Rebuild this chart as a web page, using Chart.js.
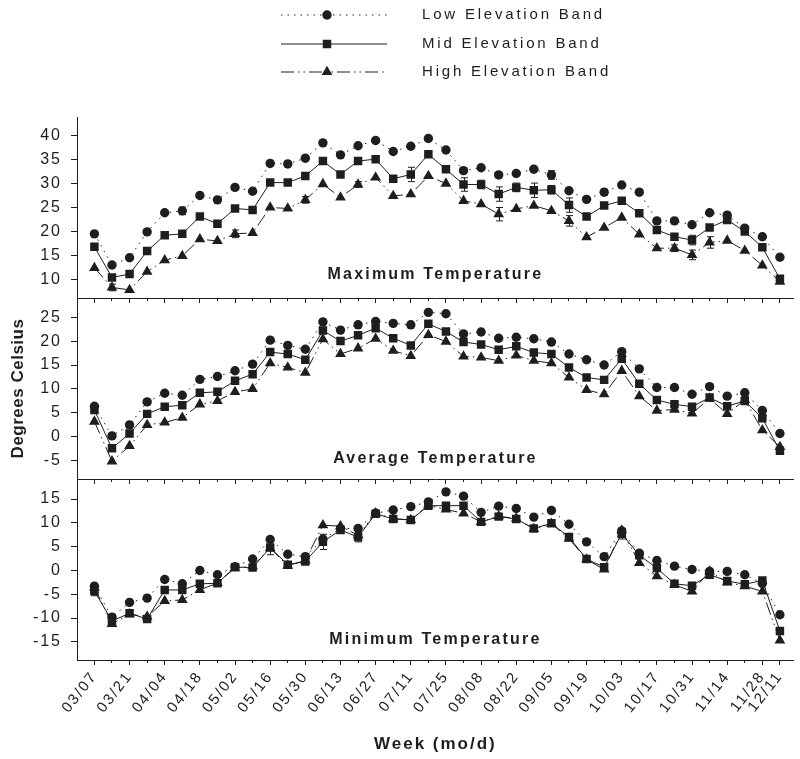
<!DOCTYPE html>
<html>
<head>
<meta charset="utf-8">
<script src="https://cdn.jsdelivr.net/npm/chart.js@4.4.0/dist/chart.umd.min.js"></script>
<style>
  body { margin: 0; background: #fff; }
  #wrap { position: relative; width: 800px; height: 759px; }
  #wrap canvas { position: absolute; left: 0; top: 0; }
</style>
</head>
<body>
<div id="wrap">
  <canvas id="maxChart" width="800" height="759"></canvas>
  <canvas id="avgChart" width="800" height="759"></canvas>
  <canvas id="minChart" width="800" height="759"></canvas>
</div>
<script>
// Weekly categories (only every 2nd one + last is labelled)
const weeks = ['03/07', '03/14', '03/21', '03/28', '04/04', '04/11', '04/18', '04/25', '05/02', '05/09',
  '05/16', '05/23', '05/30', '06/06', '06/13', '06/20', '06/27', '07/04', '07/11', '07/18',
  '07/25', '08/01', '08/08', '08/15', '08/22', '08/29', '09/05', '09/12', '09/19', '09/26',
  '10/03', '10/10', '10/17', '10/24', '10/31', '11/07', '11/14', '11/21', '11/28', '12/11'];

const bandNames = ['Low Elevation Band', 'Mid Elevation Band', 'High Elevation Band'];

// Maximum temperature
const maxLow = [19.5, 13.0, 14.5, 19.9, 23.9, 24.3, 27.5, 26.6, 29.2, 28.4,
  34.2, 34.1, 35.3, 38.5, 36.0, 37.9, 39.0, 36.7, 37.8, 39.4,
  37.0, 32.7, 33.3, 31.8, 32.1, 33.0, 31.8, 28.5, 26.7, 28.2,
  29.7, 28.2, 22.2, 22.2, 21.4, 23.9, 23.4, 20.7, 18.9, 14.6];
const maxMid = [16.8, 10.4, 11.1, 15.9, 19.2, 19.5, 23.1, 21.6, 24.8, 24.5,
  30.2, 30.2, 31.6, 34.7, 31.9, 34.7, 35.1, 31.0, 31.9, 36.1,
  33.0, 29.8, 29.8, 27.8, 29.2, 28.6, 28.7, 25.5, 23.1, 25.4,
  26.4, 23.8, 20.3, 18.9, 18.2, 20.8, 22.4, 20.0, 16.7, 10.1];
const maxHigh = [12.4, 8.3, 7.8, 11.6, 14.0, 14.9, 18.4, 18.0, 19.5, 19.7,
  25.0, 24.8, 26.6, 29.9, 27.1, 29.8, 31.3, 27.4, 27.8, 31.6,
  30.0, 26.4, 25.7, 23.6, 24.7, 25.4, 24.3, 22.2, 18.8, 20.8,
  22.9, 19.4, 16.5, 16.5, 15.1, 17.7, 18.1, 16.0, 12.9, 9.5];

// Average temperature
const avgLow = [6.4, 0.2, 2.5, 7.3, 9.1, 8.7, 12.0, 12.6, 13.8, 15.2,
  20.2, 19.1, 18.3, 24.0, 22.3, 23.4, 24.1, 23.7, 23.4, 26.0,
  25.7, 21.5, 21.9, 20.6, 20.8, 20.5, 19.8, 17.3, 16.1, 15.0,
  17.8, 14.2, 10.3, 10.3, 8.9, 10.5, 8.5, 9.2, 5.5, 0.7];
const avgMid = [5.6, -2.4, 0.7, 4.8, 6.3, 6.6, 9.2, 9.4, 11.7, 13.1,
  17.7, 17.3, 16.1, 22.2, 20.0, 21.2, 22.7, 20.6, 19.1, 23.6,
  22.0, 19.8, 19.3, 18.2, 18.9, 17.6, 17.3, 14.5, 12.4, 11.9,
  16.3, 11.1, 7.7, 6.8, 6.3, 8.2, 6.4, 7.5, 3.9, -2.9];
const avgHigh = [3.2, -5.1, -1.9, 2.5, 3.0, 4.0, 6.8, 7.5, 9.4, 10.0,
  15.4, 14.5, 13.4, 20.4, 17.3, 18.5, 20.5, 18.0, 16.9, 21.3,
  19.9, 16.8, 16.6, 15.9, 17.0, 15.9, 15.4, 12.4, 9.8, 8.9,
  13.8, 8.5, 5.5, 5.7, 4.9, 8.0, 4.8, 7.7, 1.4, -2.1];

// Minimum temperature
const minLow = [-3.3, -9.8, -6.7, -5.8, -1.9, -2.8, 0.0, -0.9, 0.8, 2.4,
  6.5, 3.4, 2.9, 6.6, 8.8, 8.8, 12.0, 12.7, 13.4, 14.4,
  16.5, 15.6, 12.2, 13.5, 13.0, 11.2, 12.6, 9.7, 6.0, 2.9,
  8.3, 3.6, 2.1, 0.9, 0.2, -0.2, -0.2, -0.9, -2.7, -9.3];
const minMid = [-4.3, -10.6, -9.0, -10.2, -4.1, -4.1, -2.8, -2.7, 0.7, 0.6,
  4.8, 1.2, 1.9, 6.0, 8.5, 7.0, 11.9, 10.8, 10.6, 13.6,
  13.6, 13.6, 10.2, 11.3, 10.8, 8.8, 9.9, 7.0, 2.4, 0.7,
  7.7, 3.2, 0.5, -2.8, -3.2, -0.9, -2.2, -2.9, -2.1, -12.7];
const minHigh = [-3.6, -11.2, -9.2, -9.7, -6.4, -6.2, -4.1, -2.6, 0.5, 0.9,
  4.7, 1.0, 2.1, 9.5, 9.3, 7.4, 12.0, 10.9, 10.6, 13.7,
  12.8, 12.0, 10.2, 11.4, 10.9, 8.7, 9.8, 6.7, 2.3, 0.2,
  8.4, 1.6, -1.2, -3.0, -4.4, -0.2, -2.5, -3.3, -4.4, -14.7];

// error bars that are visible in the figure: [week index, +/- value]
const maxLowErr = [[5, 0.8], [26, 0.9], [29, 0.6]];
const maxMidErr = [[18, 1.5], [21, 1.4], [22, 0.9], [23, 1.5], [24, 0.9], [25, 1.5], [26, 0.9], [27, 1.5], [34, 1.0]];
const maxHighErr = [[1, 0.7], [8, 0.8], [12, 0.7], [15, 0.6], [23, 1.4], [27, 1.1], [33, 0.7], [34, 1.0], [35, 1.2]];
const minMidErr = [[0, 1.0], [10, 1.5], [13, 1.6], [15, 1.0], [27, 0.7], [30, 1.1]];

// Y tick labels per panel
const maxTicks = [10, 15, 20, 25, 30, 35, 40];
const avgTicks = [-5, 0, 5, 10, 15, 20, 25];
const minTicks = [-15, -10, -5, 0, 5, 10, 15];

const ink = '#1e1e1e';
const family = "'Liberation Sans', Arial, Helvetica, sans-serif";

const bandStyles = [
  { pointStyle: 'circle', radius: 4.7, dash: [1.5, 5] },
  { pointStyle: 'rect', radius: 6, dash: [] },
  { pointStyle: 'triangle', radius: 6.2, dash: [13, 4, 1.5, 4, 1.5, 4] }
];

function makeDatasets(series, errors) {
  return series.map((vals, b) => ({
    label: bandNames[b],
    data: vals.map((v, i) => ({ x: i, y: v })),
    errorBars: errors[b] || [],
    borderColor: ink,
    backgroundColor: ink,
    borderWidth: 1,
    borderDash: bandStyles[b].dash,
    pointStyle: bandStyles[b].pointStyle,
    pointRadius: bandStyles[b].radius,
    pointHoverRadius: bandStyles[b].radius,
    pointBorderWidth: 0,
    pointBackgroundColor: ink,
    tension: 0
  }));
}

const isMajor = i => i % 2 === 0 || i === weeks.length - 1;

// short ticks at every week, labels for the fortnightly ones
function xScale(withLabels) {
  return {
    type: 'linear',
    position: 'bottom',
    weight: 1,
    min: -0.99,
    max: 39.79,
    afterBuildTicks: s => { s.ticks = weeks.map((w, i) => ({ value: i })); },
    afterFit: s => { s.height = withLabels ? 99 : 0; s.paddingLeft = 0; s.paddingRight = 0; },
    border: { display: true, color: ink, width: 1 },
    grid: { drawOnChartArea: false, drawTicks: true, tickLength: 3, color: ink },
    ticks: {
      display: withLabels,
      autoSkip: false,
      minRotation: 52,
      maxRotation: 52,
      padding: 5,
      color: ink,
      font: { family: family, size: 15 },
      callback: v => isMajor(v) ? weeks[v] : ''
    },
    title: {
      display: withLabels,
      text: 'Week (mo/d)',
      color: ink,
      font: { family: family, size: 17, weight: 'bold' },
      padding: { top: 4, bottom: 4 }
    }
  };
}

// longer ticks at the labelled weeks
function xMajorScale() {
  return {
    type: 'linear',
    position: 'bottom',
    axis: 'x',
    weight: 0,
    min: -0.99,
    max: 39.79,
    afterBuildTicks: s => { s.ticks = weeks.map((w, i) => ({ value: i })).filter(t => isMajor(t.value)); },
    afterFit: s => { s.height = 0; s.paddingLeft = 0; s.paddingRight = 0; },
    border: { display: false },
    grid: { drawOnChartArea: false, drawTicks: true, tickLength: 5, color: ink },
    ticks: { display: false }
  };
}

function yScale(min, max, tickVals) {
  return {
    type: 'linear',
    min: min,
    max: max,
    afterBuildTicks: s => { s.ticks = tickVals.map(v => ({ value: v })); },
    afterFit: s => { s.width = 77; },
    border: { display: true, color: ink, width: 1 },
    grid: { drawOnChartArea: false, drawTicks: true, tickLength: 6, color: ink },
    ticks: { color: ink, padding: 9, font: { family: family, size: 16 }, callback: v => String(v) }
  };
}

// wide tracking like the original figure
const tracking = {
  id: 'tracking',
  beforeDraw(chart) { chart.ctx.letterSpacing = '2px'; }
};

// error bars from the dataset's errorBars list
const errorBars = {
  id: 'errorBars',
  afterDatasetsDraw(chart) {
    const { ctx, scales } = chart;
    ctx.save();
    ctx.strokeStyle = ink;
    ctx.lineWidth = 1;
    chart.data.datasets.forEach(ds => {
      ds.errorBars.forEach(([i, e]) => {
        const v = ds.data[i].y;
        const x = Math.round(scales.x.getPixelForValue(i)) + 0.5;
        const y0 = scales.y.getPixelForValue(v + e);
        const y1 = scales.y.getPixelForValue(v - e);
        ctx.beginPath();
        ctx.moveTo(x, y0); ctx.lineTo(x, y1);
        ctx.moveTo(x - 3.5, y0); ctx.lineTo(x + 3.5, y0);
        ctx.moveTo(x - 3.5, y1); ctx.lineTo(x + 3.5, y1);
        ctx.stroke();
      });
    });
    ctx.restore();
  }
};

// panel caption inside the plot area + optional side title
const panelTitle = {
  id: 'panelTitle',
  afterDraw(chart, args, opts) {
    const { ctx, chartArea } = chart;
    ctx.save();
    ctx.font = 'bold 16px ' + family;
    ctx.letterSpacing = '2.2px';
    ctx.fillStyle = ink;
    ctx.textAlign = 'center';
    ctx.textBaseline = 'middle';
    ctx.fillText(opts.text, (chartArea.left + chartArea.right) / 2, chartArea.bottom - opts.offset);
    if (opts.side) {
      ctx.translate(18, (chartArea.top + chartArea.bottom) / 2);
      ctx.rotate(-Math.PI / 2);
      ctx.font = 'bold 17px ' + family;
      ctx.letterSpacing = '0.5px';
      ctx.fillText(opts.side, 0, 0);
    }
    ctx.restore();
  }
};

// line-sample legend at the top of the figure
const bandLegend = {
  id: 'bandLegend',
  afterDraw(chart, args, opts) {
    if (!opts.show) return;
    const ctx = chart.ctx;
    chart.data.datasets.forEach((ds, k) => {
      const y = opts.rows[k];
      ctx.save();
      ctx.strokeStyle = ink;
      ctx.lineWidth = 1;
      ctx.setLineDash(ds.borderDash);
      ctx.beginPath();
      ctx.moveTo(opts.x0, y);
      ctx.lineTo(opts.x1, y);
      ctx.stroke();
      ctx.setLineDash([]);
      ctx.fillStyle = ink;
      Chart.helpers.drawPoint(ctx, { pointStyle: ds.pointStyle, radius: ds.pointRadius, rotation: 0, borderWidth: 0 }, opts.xm, y);
      ctx.font = '15px ' + family;
      ctx.letterSpacing = '2.8px';
      ctx.textAlign = 'left';
      ctx.textBaseline = 'middle';
      ctx.fillText(ds.label, opts.xt, y);
      ctx.restore();
    });
  }
};

function makeChart(id, series, errors, yMin, yMax, tickVals, caption, captionOffset, layoutPad, isBottom, sideTitle, legend) {
  return new Chart(document.getElementById(id), {
    type: 'line',
    data: { datasets: makeDatasets(series, errors) },
    options: {
      responsive: false,
      animation: false,
      events: [],
      layout: { padding: layoutPad },
      scales: {
        x: xScale(isBottom),
        xMajor: xMajorScale(),
        y: yScale(yMin, yMax, tickVals)
      },
      plugins: {
        legend: { display: false },
        tooltip: { enabled: false },
        panelTitle: { text: caption, offset: captionOffset, side: sideTitle },
        bandLegend: { show: legend, rows: [15, 44, 72], x0: 281, x1: 387, xm: 327, xt: 422 }
      }
    },
    plugins: [tracking, errorBars, panelTitle, bandLegend]
  });
}

makeChart('maxChart', [maxLow, maxMid, maxHigh], [maxLowErr, maxMidErr, maxHighErr], 6.1, 43.9, maxTicks,
  'Maximum Temperature', 23, { top: 117, bottom: 461, left: 0, right: 0 }, false, '', true);
makeChart('avgChart', [avgLow, avgMid, avgHigh], [], -8.8, 29.0, avgTicks,
  'Average Temperature', 20, { top: 298, bottom: 280, left: 0, right: 0 }, false, 'Degrees Celsius', false);
makeChart('minChart', [minLow, minMid, minHigh], [[], minMidErr, []], -18.8, 19.2, minTicks,
  'Minimum Temperature', 20, { top: 479, bottom: 0, left: 0, right: 0 }, true, '', false);
</script>
</body>
</html>
